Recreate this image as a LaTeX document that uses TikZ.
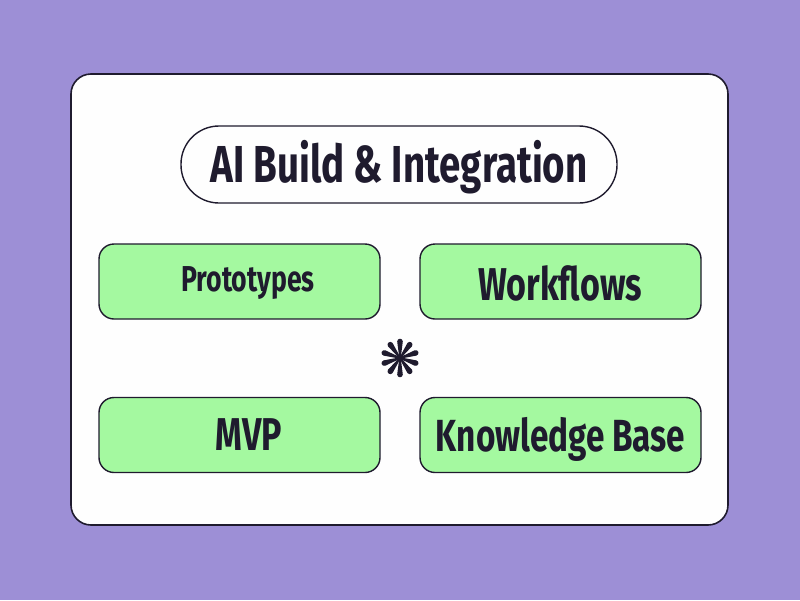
\documentclass[tikz,border=0pt]{standalone}
\usepackage{fontspec}
\setmainfont[FakeStretch=0.74]{Fira Sans}
\definecolor{bgpurple}{HTML}{9D8FD6}
\definecolor{cardwhite}{HTML}{FEFEFE}
\definecolor{pillgreen}{HTML}{A4F9A0}
\definecolor{inkdark}{HTML}{1F1B2E}
\begin{document}
\begin{tikzpicture}[x=1pt,y=-1pt,
  card/.style={draw=inkdark,line width=1.6pt,fill=cardwhite,rounded corners=20pt},
  titlepill/.style={draw=inkdark,line width=1.4pt,fill=cardwhite,rounded corners=38pt,
     minimum width=436pt,minimum height=77pt,inner sep=0pt},
  greenbox/.style={draw=inkdark,line width=1.4pt,fill=pillgreen,rounded corners=15pt,
     minimum width=281pt,minimum height=75pt,inner sep=0pt},
  label/.style={text=inkdark,inner sep=0pt,font=\fontsize{#1}{#1}\selectfont\bfseries},
  spoke/.style={fill=inkdark}]
\useasboundingbox (0,0) rectangle (800,600);
\fill[bgpurple] (0,0) rectangle (800,600);
\draw[card] (71,74) rectangle (728,525);
\node[titlepill] (title) at (399,164.5) {};
\node[label=52] (titlet) at (399,167.5) {AI Build \& Integration};
\node[greenbox] (proto) at (239.5,281.5) {};
\node[label=36] (protot) at (248,283) {Prototypes};
\node[greenbox] (work) at (560.5,281.5) {};
\node[label=46] (workt) at (560,283) {Workflows};
\node[greenbox] (mvp) at (239.5,435) {};
\node[label=46] (mvpt) at (249,435) {MVP};
\node[greenbox] (kb) at (560.5,435) {};
\node[label=45] (kbt) at (560.5,439) {Knowledge Base};
\coordinate (star) at (400,358);
\foreach \a in {90,126,162,198,234,270,306,342,18,54}{
  \begin{scope}[shift={(star)},rotate=\a]
    \fill[spoke] (0,-0.7) -- (16.5,-2.8) arc(-90:90:2.8) -- (0,0.7) -- cycle;
  \end{scope}
}
\end{tikzpicture}
\end{document}
